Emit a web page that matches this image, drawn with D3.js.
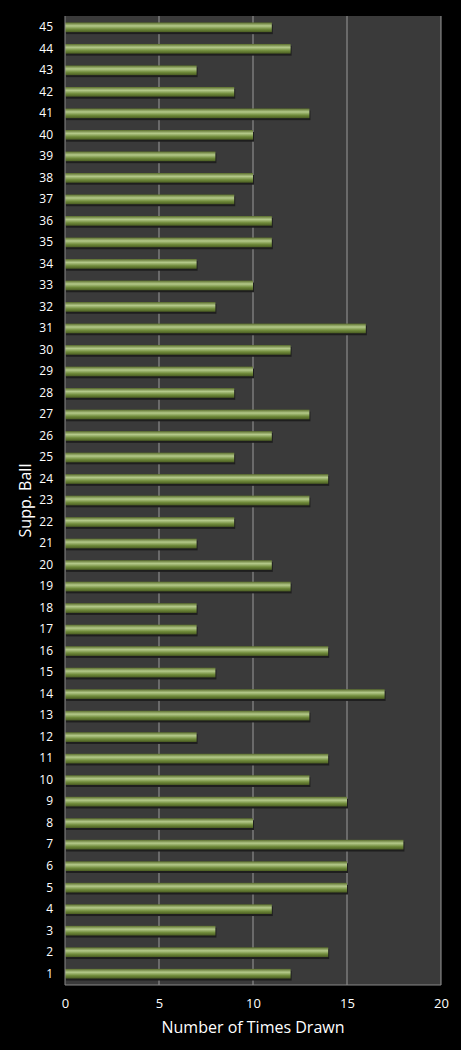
<!DOCTYPE html>
<html><head><meta charset="utf-8">
<script src="https://cdn.jsdelivr.net/npm/d3@7"></script>
<style>body{margin:0;background:#000;}text{font-family:"Open Sans",sans-serif;fill:#fff;}</style>
</head><body>
<script>
var balls = d3.range(1, 46);
var timesDrawn = [12,14,8,11,15,15,18,10,15,13,14,7,13,17,8,14,7,7,12,11,7,9,13,14,9,11,13,9,10,12,16,8,10,7,11,11,9,10,8,10,13,9,7,12,11];
var xTicks = [0,5,10,15,20];

var margin = {top: 16, right: 20, bottom: 65, left: 65};
var width = 461 - margin.left - margin.right;
var height = 1050 - margin.top - margin.bottom;

var svg = d3.select("body").append("svg")
    .attr("width", 461).attr("height", 1050);

var defs = svg.append("defs");
var grad = defs.append("linearGradient").attr("id", "barGrad")
    .attr("x1", 0).attr("y1", 0).attr("x2", 0).attr("y2", 1);
grad.append("stop").attr("offset", "0%").attr("stop-color", "#5a6e2c");
grad.append("stop").attr("offset", "35%").attr("stop-color", "#b4c98a");
grad.append("stop").attr("offset", "70%").attr("stop-color", "#6f8a3a");
grad.append("stop").attr("offset", "100%").attr("stop-color", "#4a5c22");

var g = svg.append("g").attr("transform", "translate(" + margin.left + "," + margin.top + ")");

var x = d3.scaleLinear().domain([0, 20]).range([0, width]);
var y = d3.scaleBand().domain(balls.slice().reverse()).range([0, height]).paddingInner(0.55).paddingOuter(0.3);

g.append("rect").attr("width", width).attr("height", height).attr("fill", "#3a3a3a");

g.selectAll(".grid").data(xTicks.slice(1)).enter().append("line")
    .attr("x1", d => x(d)).attr("x2", d => x(d))
    .attr("y1", 0).attr("y2", height)
    .attr("stroke", "#9a9a9a").attr("stroke-width", 1);

g.selectAll(".shadow").data(balls).enter().append("rect")
    .attr("x", 1).attr("y", d => y(d) + 2)
    .attr("width", d => x(timesDrawn[d - 1]))
    .attr("height", y.bandwidth())
    .attr("fill", "#1e1e1e");

g.selectAll(".bar").data(balls).enter().append("rect")
    .attr("x", 0).attr("y", d => y(d))
    .attr("width", d => x(timesDrawn[d - 1]))
    .attr("height", y.bandwidth())
    .attr("fill", "url(#barGrad)");

g.append("line").attr("x1", 0).attr("x2", 0).attr("y1", 0).attr("y2", height).attr("stroke", "#888");
g.append("line").attr("x1", 0).attr("x2", width).attr("y1", height).attr("y2", height).attr("stroke", "#888");

var xAxis = g.append("g").attr("transform", "translate(0," + height + ")")
    .call(d3.axisBottom(x).tickValues(xTicks).tickSize(0).tickPadding(14));
xAxis.select(".domain").remove();
xAxis.selectAll("text").attr("font-size", 13).attr("fill", "#fff");

var yAxis = g.append("g").call(d3.axisLeft(y).tickSize(0).tickPadding(12));
yAxis.select(".domain").remove();
yAxis.selectAll("text").attr("font-size", 12).attr("fill", "#fff");

svg.append("text").attr("x", margin.left + width / 2).attr("y", 1033)
    .attr("text-anchor", "middle").attr("font-size", 16).text("Number of Times Drawn");

svg.append("text").attr("transform", "translate(31," + (margin.top + height / 2) + ") rotate(-90)")
    .attr("text-anchor", "middle").attr("font-size", 16).text("Supp. Ball");
</script>
</body></html>
